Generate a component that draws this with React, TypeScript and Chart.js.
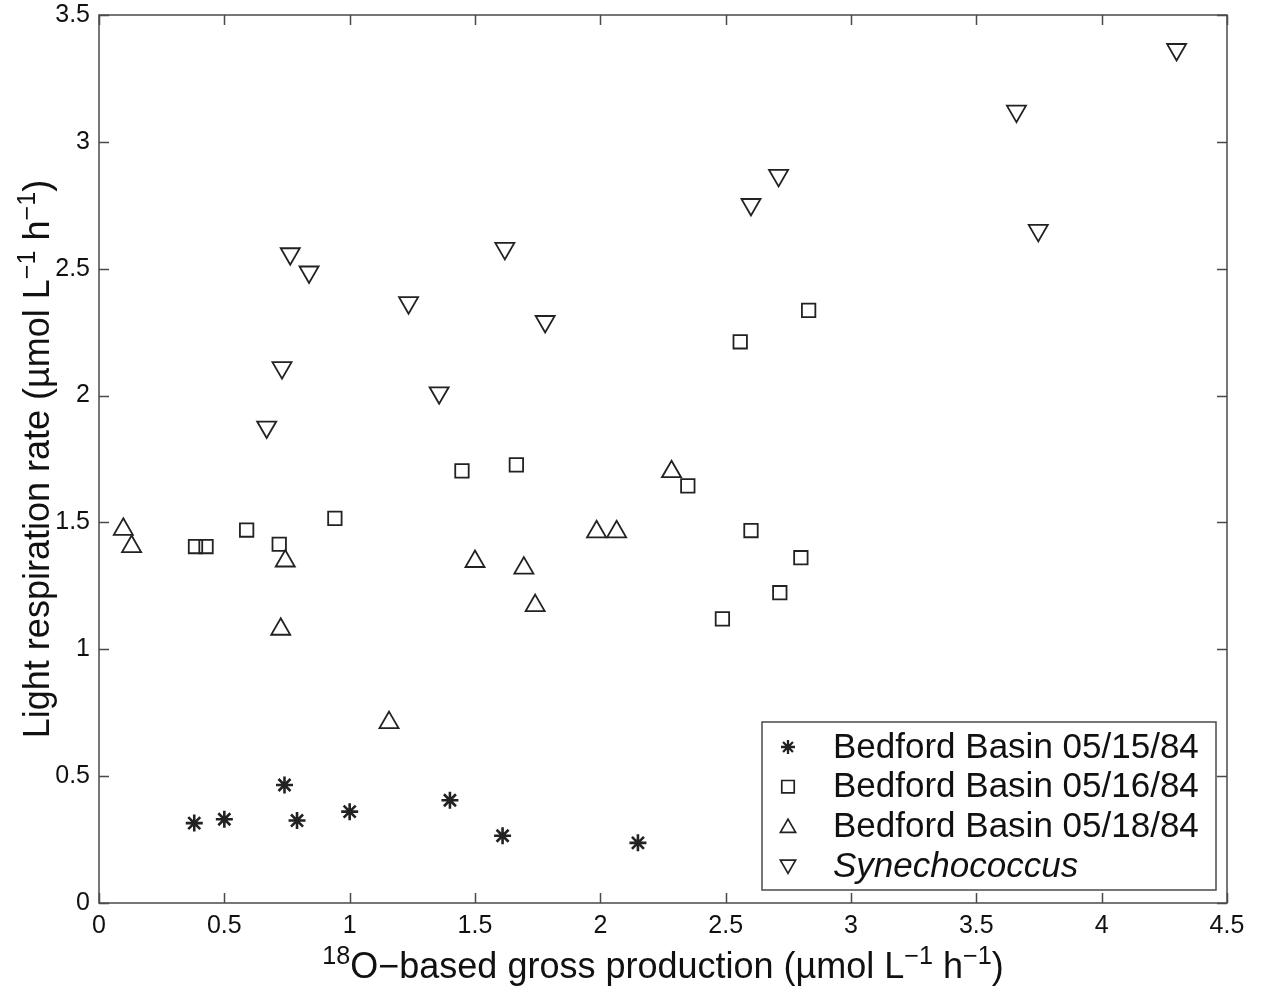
import React, { useEffect, useRef } from 'react';
import { Chart, registerables } from 'chart.js';

Chart.register(...registerables);

// ---------- data ----------
const seriesLabels = ['Bedford Basin 05/15/84', 'Bedford Basin 05/16/84', 'Bedford Basin 05/18/84', 'Synechococcus'];

const bb0515X = [0.38, 0.50, 0.74, 0.79, 1.00, 1.40, 1.61, 2.15];
const bb0515Y = [0.315, 0.33, 0.465, 0.325, 0.36, 0.405, 0.265, 0.237];

const bb0516X = [0.385, 0.427, 0.589, 0.719, 0.941, 1.448, 1.665, 2.349, 2.558, 2.601, 2.487, 2.716, 2.800, 2.831];
const bb0516Y = [1.405, 1.405, 1.470, 1.414, 1.516, 1.703, 1.727, 1.644, 2.212, 1.468, 1.120, 1.223, 1.361, 2.336];

const bb0518X = [0.097, 0.130, 0.743, 0.725, 1.157, 1.500, 1.695, 1.740, 1.985, 2.065, 2.284];
const bb0518Y = [1.473, 1.405, 1.348, 1.079, 0.711, 1.346, 1.320, 1.172, 1.463, 1.463, 1.700];

const synX = [0.669, 0.730, 0.763, 0.838, 1.235, 1.357, 1.619, 1.780, 2.601, 2.711, 3.660, 3.747, 4.299];
const synY = [1.876, 2.110, 2.559, 2.487, 2.366, 2.011, 2.580, 2.292, 2.753, 2.868, 3.121, 2.651, 3.364];

const xTickValues = [0, 0.5, 1, 1.5, 2, 2.5, 3, 3.5, 4, 4.5];
const yTickValues = [0, 0.5, 1, 1.5, 2, 2.5, 3, 3.5];

const FONT = '"Liberation Sans", Arial, Helvetica, sans-serif';
const AXIS_COLOR = '#4a4a4a';
const MARK_COLOR = '#222222';

type Seg = { t: string; sup?: boolean };
const xTitleSegs: Seg[] = [
  { t: '18', sup: true },
  { t: 'O\u2212based gross production (\u00b5mol L' },
  { t: '\u22121', sup: true },
  { t: ' h' },
  { t: '\u22121', sup: true },
  { t: ')' },
];
const yTitleSegs: Seg[] = [
  { t: 'Light respiration rate (\u00b5mol L' },
  { t: '\u22121', sup: true },
  { t: ' h' },
  { t: '\u22121', sup: true },
  { t: ')' },
];

const zip = (xs: number[], ys: number[]) => xs.map((x, i) => ({ x, y: ys[i] }));

function drawRich(ctx: CanvasRenderingContext2D, segs: Seg[], cx: number, baseline: number, size: number) {
  const supSize = size * 0.7;
  const widths = segs.map((s) => {
    ctx.font = `${s.sup ? supSize : size}px ${FONT}`;
    return ctx.measureText(s.t).width;
  });
  const total = widths.reduce((a, b) => a + b, 0);
  let x = cx - total / 2;
  ctx.textAlign = 'left';
  ctx.textBaseline = 'alphabetic';
  segs.forEach((s, i) => {
    ctx.font = `${s.sup ? supSize : size}px ${FONT}`;
    ctx.fillText(s.t, x, s.sup ? baseline - size * 0.4 : baseline);
    x += widths[i];
  });
}

function drawMarker(ctx: CanvasRenderingContext2D, kind: number, x: number, y: number, r: number) {
  ctx.beginPath();
  if (kind === 0) {
    for (let k = 0; k < 4; k++) {
      const a = (k * Math.PI) / 4;
      ctx.moveTo(x - Math.cos(a) * r, y - Math.sin(a) * r);
      ctx.lineTo(x + Math.cos(a) * r, y + Math.sin(a) * r);
    }
  } else if (kind === 1) {
    const s = r * Math.SQRT1_2;
    ctx.rect(x - s, y - s, 2 * s, 2 * s);
  } else {
    const dir = kind === 2 ? 1 : -1;
    ctx.moveTo(x, y - dir * r);
    ctx.lineTo(x + 0.866 * r, y + dir * r * 0.5);
    ctx.lineTo(x - 0.866 * r, y + dir * r * 0.5);
    ctx.closePath();
  }
  ctx.stroke();
}

const decorPlugin = {
  id: 'decor',
  afterDraw(chart: any) {
    const { ctx, chartArea: a, scales } = chart;
    ctx.save();
    // frame
    ctx.strokeStyle = AXIS_COLOR;
    ctx.lineWidth = 1.5;
    ctx.strokeRect(a.left, a.top, a.right - a.left, a.bottom - a.top);
    // inward ticks on all sides
    const TL = 10;
    ctx.beginPath();
    xTickValues.forEach((v) => {
      const px = Math.round(scales.x.getPixelForValue(v)) + 0.5;
      ctx.moveTo(px, a.bottom);
      ctx.lineTo(px, a.bottom - TL);
      ctx.moveTo(px, a.top);
      ctx.lineTo(px, a.top + TL);
    });
    yTickValues.forEach((v) => {
      const py = Math.round(scales.y.getPixelForValue(v)) + 0.5;
      ctx.moveTo(a.left, py);
      ctx.lineTo(a.left + TL, py);
      ctx.moveTo(a.right, py);
      ctx.lineTo(a.right - TL, py);
    });
    ctx.stroke();

    // axis titles
    ctx.fillStyle = '#111';
    const titleSize = 36;
    drawRich(ctx, xTitleSegs, (a.left + a.right) / 2, 978, titleSize);
    ctx.save();
    ctx.translate(49, (a.top + a.bottom) / 2);
    ctx.rotate(-Math.PI / 2);
    drawRich(ctx, yTitleSegs, 0, 0, titleSize);
    ctx.restore();

    // legend
    const lx0 = 762, ly0 = 722, lx1 = 1216, ly1 = 890;
    ctx.fillStyle = '#fff';
    ctx.fillRect(lx0, ly0, lx1 - lx0, ly1 - ly0);
    ctx.strokeStyle = AXIS_COLOR;
    ctx.lineWidth = 1.5;
    ctx.strokeRect(lx0, ly0, lx1 - lx0, ly1 - ly0);
    chart.data.datasets.forEach((ds: any, i: number) => {
      const cy = 747 + i * 39.7;
      ctx.strokeStyle = MARK_COLOR;
      ctx.lineWidth = i === 0 ? 2.3 : 1.7;
      drawMarker(ctx, i, 788, cy + (i === 2 ? 1.5 : i === 3 ? -1.5 : 0), i === 0 ? 7 : 8.8);
      ctx.fillStyle = '#111';
      ctx.font = `${i === 3 ? 'italic ' : ''}35px ${FONT}`;
      ctx.textAlign = 'left';
      ctx.textBaseline = 'middle';
      ctx.fillText(ds.label, 833, cy + 1);
    });
    ctx.restore();
  },
};

export default function App() {
  const ref = useRef<HTMLCanvasElement | null>(null);

  useEffect(() => {
    if (!ref.current) return;
    const common = { borderColor: MARK_COLOR, backgroundColor: 'rgba(0,0,0,0)', showLine: false };
    const chart = new Chart(ref.current, {
      type: 'scatter',
      data: {
        datasets: [
          { ...common, label: seriesLabels[0], data: zip(bb0515X, bb0515Y), pointStyle: 'star', pointRadius: 8.5, borderWidth: 2.6 },
          { ...common, label: seriesLabels[1], data: zip(bb0516X, bb0516Y), pointStyle: 'rect', pointRadius: 9.5, borderWidth: 1.8 },
          { ...common, label: seriesLabels[2], data: zip(bb0518X, bb0518Y), pointStyle: 'triangle', pointRadius: 11, borderWidth: 1.8 },
          { ...common, label: seriesLabels[3], data: zip(synX, synY), pointStyle: 'triangle', rotation: 180, pointRadius: 11, borderWidth: 1.8 },
        ],
      },
      options: {
        animation: false,
        responsive: false,
        events: [],
        layout: { padding: { left: 0, right: 35, top: 15, bottom: 0 } },
        plugins: { legend: { display: false }, tooltip: { enabled: false }, title: { display: false } },
        scales: {
          x: {
            type: 'linear',
            min: 0,
            max: 4.5,
            afterFit: (s: any) => { s.height = 91; s.paddingLeft = 0; s.paddingRight = 0; },
            afterBuildTicks: (s: any) => { s.ticks = xTickValues.map((v) => ({ value: v })); },
            grid: { display: false, drawTicks: false },
            border: { display: false },
            ticks: { padding: 8, color: '#111', font: { family: FONT, size: 25 }, maxRotation: 0, callback: (v: any) => String(v) },
          },
          y: {
            type: 'linear',
            min: 0,
            max: 3.5,
            afterFit: (s: any) => { s.width = 99; s.paddingTop = 0; s.paddingBottom = 0; },
            afterBuildTicks: (s: any) => { s.ticks = yTickValues.map((v) => ({ value: v })); },
            grid: { display: false, drawTicks: false },
            border: { display: false },
            ticks: { padding: 9, color: '#111', font: { family: FONT, size: 25 }, callback: (v: any) => String(v) },
          },
        },
      },
      plugins: [decorPlugin],
    });
    return () => chart.destroy();
  }, []);

  return (
    <div style={{ position: 'absolute', left: 0, top: 0, width: 1262, height: 994, background: '#fff' }}>
      <canvas ref={ref} width={1262} height={994} />
    </div>
  );
}
